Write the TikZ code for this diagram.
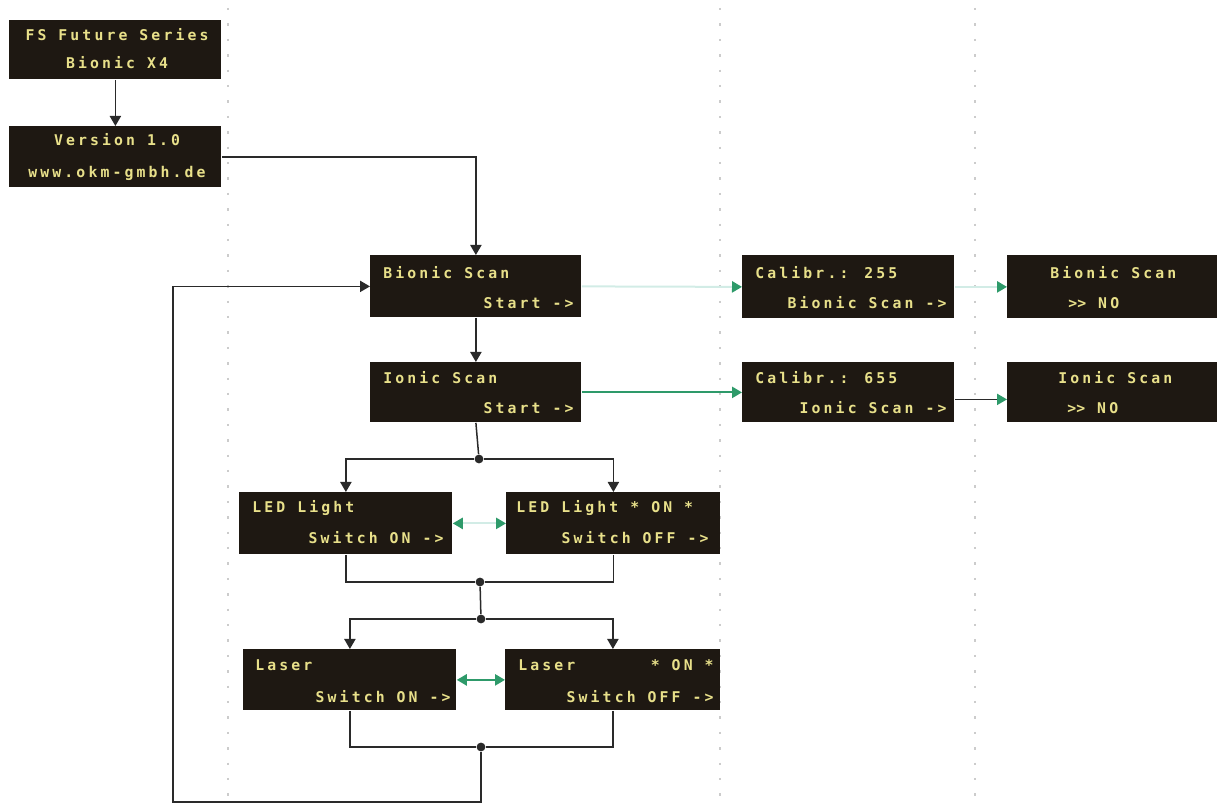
\documentclass[tikz,border=0pt]{standalone}
\usepackage{fontspec}
\newfontfamily\lcdfont[LetterSpace=21]{DejaVu Sans Mono}
\usetikzlibrary{arrows.meta,calc}
\definecolor{boxbg}{HTML}{1E1812}
\definecolor{lcdtxt}{HTML}{E8E08A}
\definecolor{arrgreen}{HTML}{2E9A6A}
\definecolor{faint}{HTML}{D2ECE6}
\definecolor{conn}{HTML}{2A2A2A}
\tikzset{
  lcdbox/.style={fill=boxbg, draw=none, inner sep=0pt, anchor=north west, minimum width=106pt, minimum height=30.5pt},
  lcd/.style={text=lcdtxt, inner sep=0pt, font=\lcdfont\bfseries\fontsize{7.4pt}{8pt}\selectfont},
  conarr/.style={draw=conn, line width=0.75pt, -{Triangle[length=5pt,width=5.6pt]}},
  conline/.style={draw=conn, line width=0.75pt},
  greenarr/.style={draw=arrgreen, line width=1pt, -{Triangle[length=5pt,width=5.6pt]}},
  faintarr/.style={draw=faint, line width=1pt, -{Triangle[length=5pt,width=5.6pt,color=arrgreen]}},
  faintdbl/.style={draw=faint, line width=1pt, {Triangle[length=5pt,width=5.6pt,color=arrgreen]}-{Triangle[length=5pt,width=5.6pt,color=arrgreen]}},
  greendbl/.style={draw=arrgreen, line width=1pt, {Triangle[length=5pt,width=5.6pt]}-{Triangle[length=5pt,width=5.6pt]}},
  dot/.style={circle, fill=conn, inner sep=0pt, minimum size=4.4pt},
  grid/.style={draw=gray!40, line width=0.8pt, dash pattern=on 1.2pt off 6.5pt}
}
\begin{document}
\begin{tikzpicture}[x=0.5pt,y=-0.5pt]
\useasboundingbox (0,0) rectangle (1217,807);
% dotted guide lines
\draw[grid] (228,8) -- (228,807);
\draw[grid] (720,8) -- (720,807);
\draw[grid] (975,8) -- (975,807);

% boxes
\node[lcdbox, minimum height=29.5pt] (b1) at (9,20) {};
\node[lcdbox] (b2) at (9,126) {};
\node[lcdbox, minimum width=105.5pt, minimum height=31pt] (b3) at (370,255) {};
\node[lcdbox, minimum width=105.5pt, minimum height=30pt] (b4) at (370,362) {};
\node[lcdbox, minimum height=31.5pt] (c1) at (742,255) {};
\node[lcdbox, minimum height=30pt] (c2) at (742,362) {};
\node[lcdbox, minimum width=105pt, minimum height=31.5pt] (n1) at (1007,255) {};
\node[lcdbox, minimum width=105pt, minimum height=30pt] (n2) at (1007,362) {};
\node[lcdbox, minimum width=106.5pt, minimum height=31pt] (l1) at (239,492) {};
\node[lcdbox, minimum width=107pt, minimum height=31pt] (l2) at (506,492) {};
\node[lcdbox, minimum width=106.5pt] (s1) at (243,649) {};
\node[lcdbox, minimum width=107.5pt] (s2) at (505,649) {};

% texts
\node[lcd] (t1a) at (117,35) {FS Future Series};
\node[lcd] (t1b) at (117,63) {Bionic X4};
\node[lcd] (t2a) at (117,140) {Version 1.0};
\node[lcd] (t2b) at (117,173) {www.okm-gmbh.de};
\node[lcd, anchor=west] (t3a) at (383,273) {Bionic Scan};
\node[lcd, anchor=east] (t3b) at (574,303) {Start ->};
\node[lcd, anchor=west] (t4a) at (383,378) {Ionic Scan};
\node[lcd, anchor=east] (t4b) at (574,408) {Start ->};
\node[lcd, anchor=west] (tc1a) at (755,273) {Calibr.: 255};
\node[lcd, anchor=east] (tc1b) at (947,303) {Bionic Scan ->};
\node[lcd, anchor=west] (tc2a) at (755,378) {Calibr.: 655};
\node[lcd, anchor=east] (tc2b) at (947,408) {Ionic Scan ->};
\node[lcd, anchor=west] (tn1a) at (1050,273) {Bionic Scan};
\node[lcd, anchor=west] (tn1b) at (1068,303) {>\kern0pt> NO};
\node[lcd, anchor=west] (tn2a) at (1058,378) {Ionic Scan};
\node[lcd, anchor=west] (tn2b) at (1067,408) {>\kern0pt> NO};
\node[lcd, anchor=west] (tl1a) at (252,508) {LED Light};
\node[lcd, anchor=east] (tl1b) at (444,538) {Switch ON ->};
\node[lcd, anchor=west] (tl2a) at (516,508) {LED Light * ON *};
\node[lcd, anchor=east] (tl2b) at (709,538) {Switch OFF ->};
\node[lcd, anchor=west] (ts1a) at (255,665) {Laser};
\node[lcd, anchor=east] (ts1b) at (451,697) {Switch ON ->};
\node[lcd, anchor=west] (ts2a) at (518,665) {Laser};
\node[lcd, anchor=east] (ts2c) at (714,665) {* ON *};
\node[lcd, anchor=east] (ts2b) at (714,697) {Switch OFF ->};

% junctions
\node[dot] (j1) at (479,459) {};
\node[dot] (j2) at (480,582) {};
\node[dot] (j3) at (481,619) {};
\node[dot] (j4) at (481,747) {};
\coordinate (bl) at (173,802);

% black connectors
\draw[conarr] (b1.south) -- (b2.north);
\draw[conarr] (b2.east) -| (b3.north);
\draw[conarr] (b3.south) -- (b4.north);
\draw[conline] (b4.south) -- (j1);
\draw[conarr] (j1) -| (l1.north);
\draw[conarr] (j1) -| (l2.north);
\draw[conline] (l1.south) |- (j2);
\draw[conline] (l2.south) |- (j2);
\draw[conline] (j2) -- (j3);
\draw[conarr] (j3) -| (s1.north);
\draw[conarr] (j3) -| (s2.north);
\draw[conline] (s1.south) |- (j4);
\draw[conline] (s2.south) |- (j4);
\draw[conarr] (j4) |- (bl) |- (b3.west);

% green connectors
\draw[faintarr] (b3.east) -- (c1.west);
\draw[faintarr] (c1.east) -- (n1.west);
\draw[greenarr] (b4.east) -- (c2.west);
\draw[conline, -{Triangle[length=5pt,width=5.6pt,color=arrgreen]}] ([yshift=-3.5pt]c2.east) -- ([yshift=-3.5pt]n2.west);
\draw[faintdbl] (l1.east) -- (l2.west);
\draw[greendbl] (s1.east) -- (s2.west);
\end{tikzpicture}
\end{document}
